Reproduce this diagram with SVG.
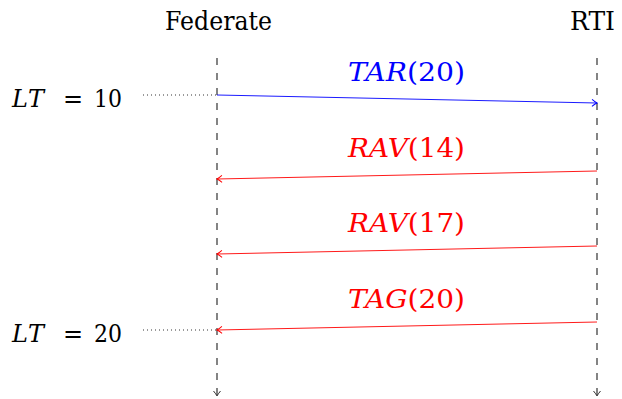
<svg xmlns="http://www.w3.org/2000/svg" width="622" height="399" viewBox="0 0 622 399">
<style>
text{font-family:'DejaVu Serif',serif;font-size:26px;fill:#000}
.m{font-style:italic}
.lt{font-size:24px}
.life{stroke:#333;stroke-width:1.2;stroke-dasharray:7 8;fill:none}
.dot{stroke:#000;stroke-width:0.8;stroke-dasharray:1 3;fill:none}
.blue{stroke:#00f;stroke-width:0.9;fill:none}
.red{stroke:#f00;stroke-width:0.9;fill:none}
</style>
<defs>
<marker id="ak" markerWidth="10" markerHeight="10" refX="7" refY="5" orient="auto" markerUnits="userSpaceOnUse"><path d="M2,1.5 Q5,4 7,5 Q5,6 2,8.5" fill="none" stroke="#333" stroke-width="1"/></marker>
<marker id="ab" markerWidth="10" markerHeight="10" refX="7" refY="5" orient="auto" markerUnits="userSpaceOnUse"><path d="M2,1.5 Q5,4 7,5 Q5,6 2,8.5" fill="none" stroke="#00f" stroke-width="1"/></marker>
<marker id="ar" markerWidth="10" markerHeight="10" refX="7" refY="5" orient="auto" markerUnits="userSpaceOnUse"><path d="M2,1.5 Q5,4 7,5 Q5,6 2,8.5" fill="none" stroke="#f00" stroke-width="1"/></marker>
</defs>
<g id="federate">
<text x="165" y="30" textLength="107" lengthAdjust="spacingAndGlyphs">Federate</text>
<path class="life" d="M217,58 V396" marker-end="url(#ak)"/>
</g>
<g id="rti">
<text x="570" y="30" textLength="45" lengthAdjust="spacingAndGlyphs">RTI</text>
<path class="life" d="M597,58 V396" marker-end="url(#ak)"/>
</g>
<g id="lt10">
<text class="lt" x="12" y="107"><tspan class="m">L</tspan><tspan class="m" x="28">T</tspan><tspan x="63">=</tspan><tspan x="94" textLength="28" lengthAdjust="spacingAndGlyphs">10</tspan></text>
</g>
<g id="lt20">
<text class="lt" x="12" y="342"><tspan class="m">L</tspan><tspan class="m" x="28">T</tspan><tspan x="63">=</tspan><tspan x="94" textLength="28" lengthAdjust="spacingAndGlyphs">20</tspan></text>
</g>
<g id="connectors">
<path class="dot" d="M143,95 H217"/>
<path class="dot" d="M143,330 H217"/>
<path class="blue" d="M217,95 L597,103" marker-end="url(#ab)"/>
<text x="348" y="81" textLength="117" lengthAdjust="spacingAndGlyphs" style="fill:#00f"><tspan class="m">TAR</tspan>(20)</text>
<path class="red" d="M597,171 L217,179" marker-end="url(#ar)"/>
<text x="348" y="157" textLength="117" lengthAdjust="spacingAndGlyphs" style="fill:#f00"><tspan class="m">RAV</tspan>(14)</text>
<path class="red" d="M597,246 L217,254" marker-end="url(#ar)"/>
<text x="348" y="232" textLength="117" lengthAdjust="spacingAndGlyphs" style="fill:#f00"><tspan class="m">RAV</tspan>(17)</text>
<path class="red" d="M597,322 L217,330" marker-end="url(#ar)"/>
<text x="348" y="308" textLength="117" lengthAdjust="spacingAndGlyphs" style="fill:#f00"><tspan class="m">TAG</tspan>(20)</text>
</g>
</svg>
